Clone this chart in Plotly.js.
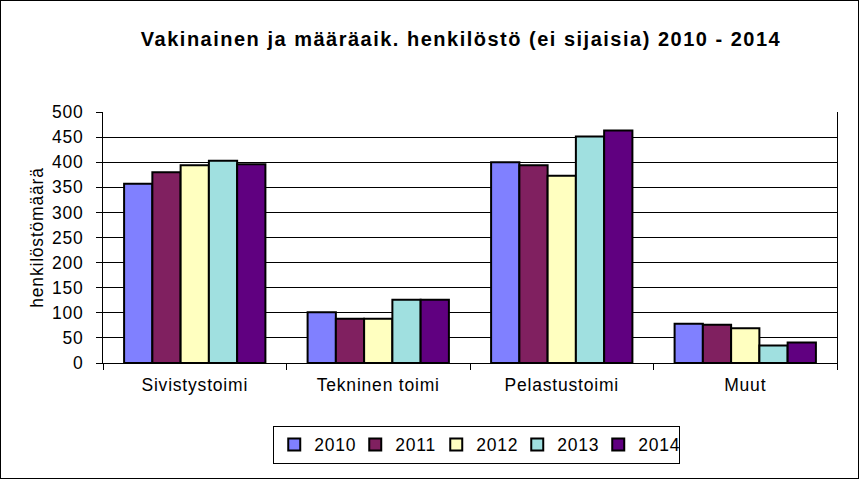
<!DOCTYPE html>
<html>
<head>
<meta charset="utf-8">
<script src="https://cdn.plot.ly/plotly-3.0.1.min.js"></script>
<style>
  body { margin: 0; padding: 0; background: #fff; }
  #wrap { position: relative; width: 859px; height: 479px; }
  #chart { width: 859px; height: 479px; }
  #frame { position: absolute; left: 0; top: 0; width: 857px; height: 477px; border: 1px solid #000; pointer-events: none; }
  svg text { letter-spacing: 0.8px; }
  svg text.gtitle { letter-spacing: 1.5px; }
</style>
</head>
<body>
<div id="wrap"><div id="chart"></div><div id="frame"></div></div>
<script>
const categories = ["Sivistystoimi", "Tekninen toimi", "Pelastustoimi", "Muut"];
const years = ["2010", "2011", "2012", "2013", "2014"];
const v2010 = [357, 101, 400, 78];
const v2011 = [380, 88, 394, 76];
const v2012 = [394, 88, 373, 69];
const v2013 = [403, 126, 451, 35];
const v2014 = [396, 126, 463, 41];
const seriesValues = [v2010, v2011, v2012, v2013, v2014];
const colors = ["#8080FF", "#802060", "#FFFFC0", "#A0E0E0", "#600080"];

const traces = years.map((y, i) => ({
  type: "bar",
  name: y,
  x: categories,
  y: seriesValues[i],
  marker: { color: colors[i], line: { color: "#000", width: 2 } },
  hoverinfo: "x+y+name"
}));

const font = { family: "Arial, 'Liberation Sans', sans-serif", color: "#000" };

const layout = {
  width: 859,
  height: 479,
  paper_bgcolor: "#fff",
  plot_bgcolor: "#fff",
  margin: { l: 103, r: 21.5, t: 112, b: 115.7, pad: 0 },
  barmode: "group",
  bargap: 0.23,
  bargroupgap: 0,
  font: Object.assign({ size: 18 }, font),
  title: {
    text: "<b>Vakinainen ja määräaik. henkilöstö (ei sijaisia) 2010 - 2014</b>",
    font: Object.assign({ size: 20 }, font),
    xref: "container", yref: "container",
    x: 461 / 859, xanchor: "center",
    y: 1 - 39 / 479, yanchor: "middle"
  },
  xaxis: {
    type: "category",
    showline: true, linecolor: "#000", linewidth: 1,
    ticks: "outside", tickson: "boundaries", ticklen: 6, tickcolor: "#000", tickwidth: 1,
    ticklabelstandoff: 6,
    showgrid: false, zeroline: false,
    tickfont: Object.assign({ size: 17.5 }, font),
    fixedrange: true
  },
  yaxis: {
    range: [0, 500], dtick: 50, tick0: 0,
    showline: true, linecolor: "#000", linewidth: 1, mirror: true,
    ticks: "outside", ticklen: 6, tickcolor: "#000", tickwidth: 1,
    ticklabelstandoff: 9,
    showgrid: true, gridcolor: "#000", gridwidth: 1,
    zeroline: false,
    tickfont: Object.assign({ size: 17.5 }, font),
    title: { text: "henkilöstömäärä", font: Object.assign({ size: 17.5 }, font), standoff: 3 },
    fixedrange: true
  },
  legend: {
    orientation: "h",
    x: (477 - 103) / 734.5, xanchor: "center",
    y: (363.3 - 426) / 251, yanchor: "top",
    bordercolor: "#000", borderwidth: 1,
    bgcolor: "#fff",
    font: Object.assign({ size: 17.5 }, font),
    itemwidth: 30,
    entrywidth: 36, entrywidthmode: "pixels",
    traceorder: "normal"
  },
  showlegend: true
};

Plotly.newPlot("chart", traces, layout, { displayModeBar: false, staticPlot: true });
</script>
</body>
</html>
